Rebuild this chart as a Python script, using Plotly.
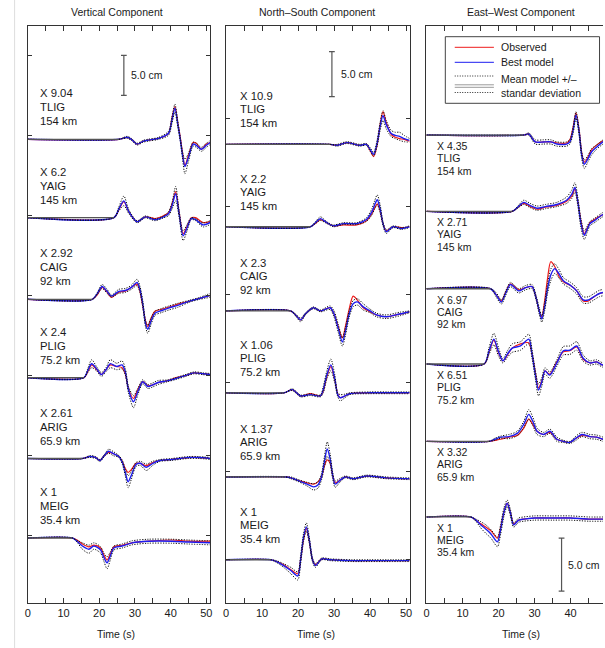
import plotly.graph_objects as go

# ---------------- labels ----------------
COMPONENT_TITLES = ["Vertical Component", "North–South Component", "East–West Component"]
STATIONS = ["TLIG", "YAIG", "CAIG", "PLIG", "ARIG", "MEIG"]
DISTANCES = ["154 km", "145 km", "92 km", "75.2 km", "65.9 km", "35.4 km"]
V_FACTORS = ["X 9.04", "X 6.2", "X 2.92", "X 2.4", "X 2.61", "X 1"]
NS_FACTORS = ["X 10.9", "X 2.2", "X 2.3", "X 1.06", "X 1.37", "X 1"]
EW_FACTORS = ["X 4.35", "X 2.71", "X 6.97", "X 6.51", "X 3.32", "X 1"]
X_TICKS = [0, 10, 20, 30, 40, 50]
SCALE_BAR_CM = 5.0

# ---------------- Vertical component (time s, amplitude cm) ----------------
V_TLIG_T = [0, 25.5, 27.8, 29.0, 30.6, 32.3, 33.8, 36.5, 39.4, 40.3, 41.2, 42.0, 42.7, 43.3, 44.0, 45.0, 46.3, 47.2, 48.6, 50.0, 51.1]
V_TLIG_OBS = [0, 0, 0.25, 0, -0.6, -0.25, -0.1, 0.1, 0.75, 2.5, 4.1, 2.1, 0.25, -1.6, -3.25, -2.0, -0.4, -0.5, -1.25, -0.6, -0.4]
V_TLIG_BEST = [0, 0, 0.25, 0, -0.6, -0.25, -0.1, 0.1, 0.75, 2.25, 3.9, 1.9, 0, -1.9, -3.4, -2.25, -0.6, -0.75, -1.25, -0.75, -0.4]
V_TLIG_STD = [0, 0, 0.12, 0.12, 0.12, 0.12, 0.12, 0.12, 0.25, 0.4, 0.5, 0.4, 0.25, 0.4, 0.9, 0.5, 0.25, 0.25, 0.25, 0.25, 0.25]

V_YAIG_T = [0, 24.1, 25.5, 26.9, 28.3, 30.6, 32.9, 35.6, 38.0, 39.4, 40.4, 41.4, 42.4, 43.5, 44.6, 45.8, 47.0, 49.1, 51.1]
V_YAIG_OBS = [0, 0, 1.0, 2.0, 0.75, -0.5, 0.1, -0.1, 0.25, 0.6, 1.75, 3.25, 0.6, -2.0, -1.1, 0, 0, -0.6, -0.5]
V_YAIG_BEST = [0, 0, 1.1, 2.1, 0.75, -0.5, 0.1, -0.25, 0.1, 0.5, 1.5, 3.0, 0.4, -2.25, -1.25, -0.1, -0.25, -0.9, -0.6]
V_YAIG_STD = [0, 0, 0.25, 0.6, 0.25, 0.12, 0.12, 0.12, 0.12, 0.25, 0.4, 0.9, 0.4, 0.6, 0.4, 0.12, 0.12, 0.25, 0.25]

V_CAIG_T = [0, 18.1, 19.5, 20.8, 22.2, 23.4, 25.5, 27.3, 29.0, 30.6, 31.4, 32.2, 33.0, 33.6, 34.5, 35.6, 37.5, 39.4, 42.0, 45.2, 48.0, 51.1]
V_CAIG_OBS = [0, 0, 0.6, 1.5, 0.9, 0.25, 0.9, 1.0, 1.5, 1.9, 1.0, -0.9, -2.75, -3.4, -2.4, -1.5, -1.25, -1.0, -0.6, -0.25, 0.1, 0.5]
V_CAIG_BEST = [0, 0, 0.75, 1.6, 1.0, 0.4, 1.0, 1.1, 1.5, 2.1, 1.25, -0.6, -3.1, -3.75, -2.75, -1.75, -1.4, -1.1, -0.75, -0.25, 0.1, 0.5]
V_CAIG_STD = [0, 0, 0.12, 0.25, 0.25, 0.12, 0.25, 0.25, 0.25, 0.4, 0.4, 0.4, 0.4, 0.5, 0.4, 0.25, 0.25, 0.25, 0.25, 0.12, 0.12, 0.25]

V_PLIG_T = [0, 15.7, 16.8, 17.9, 19.3, 20.6, 21.9, 23.1, 24.9, 26.4, 27.3, 28.2, 29.6, 30.8, 32.2, 33.6, 35.0, 36.5, 39.0, 41.5, 44.0, 46.5, 49.0, 51.1]
V_PLIG_OBS = [0, 0, 0.75, 1.6, 1.0, 0.4, 1.0, 1.6, 1.4, 1.25, 0.5, -1.4, -2.6, -1.5, -0.5, -1.0, -0.9, -0.6, -0.4, 0, 0.25, 0.6, 0.5, 0.4]
V_PLIG_BEST = [0, 0, 0.9, 1.75, 1.1, 0.4, 1.0, 1.75, 1.4, 1.6, 0.75, -1.5, -3.0, -1.75, -0.5, -1.1, -0.9, -0.6, -0.4, -0.1, 0.25, 0.6, 0.5, 0.4]
V_PLIG_STD = [0, 0, 0.25, 0.5, 0.25, 0.25, 0.25, 0.5, 0.4, 0.5, 0.4, 0.4, 0.75, 0.4, 0.25, 0.25, 0.25, 0.25, 0.12, 0.12, 0.12, 0.12, 0.12, 0.12]

V_ARIG_T = [0, 15.3, 17.4, 19.0, 20.2, 21.5, 22.6, 24.0, 25.5, 26.5, 27.3, 28.1, 29.0, 30.3, 31.5, 33.2, 35.0, 37.0, 40.3, 44.9, 48.0, 51.1]
V_ARIG_OBS = [0, 0, 0.25, 0.12, -0.25, 0.4, 0.75, 0.6, 0.25, -0.4, -1.25, -1.75, -1.4, -0.6, -0.6, -0.9, -0.5, -0.25, -0.12, 0.12, 0.12, 0]
V_ARIG_BEST = [0, 0, 0.25, 0.12, -0.25, 0.4, 0.9, 0.6, 0.25, -0.5, -1.75, -2.9, -2.1, -0.75, -0.6, -1.1, -0.6, -0.25, -0.12, 0.12, 0.12, 0]
V_ARIG_STD = [0, 0, 0.12, 0.12, 0.12, 0.12, 0.25, 0.25, 0.12, 0.25, 0.4, 0.75, 0.5, 0.25, 0.25, 0.4, 0.25, 0.12, 0.12, 0.12, 0.12, 0.12]

V_MEIG_T = [0, 12.5, 13.8, 15.3, 17.1, 18.5, 20.4, 21.3, 22.2, 23.1, 24.1, 26.4, 29.2, 33.8, 40.3, 45.0, 51.1]
V_MEIG_OBS = [0, 0, -0.25, -0.75, -1.1, -0.9, -1.25, -2.1, -2.75, -2.0, -1.1, -0.9, -0.6, -0.4, -0.25, -0.4, -0.4]
V_MEIG_BEST = [0, 0, -0.4, -1.0, -1.4, -1.0, -1.5, -2.4, -3.1, -2.25, -1.25, -1.0, -0.6, -0.4, -0.4, -0.5, -0.6]
V_MEIG_STD = [0, 0, 0.12, 0.4, 0.5, 0.4, 0.4, 0.5, 0.75, 0.5, 0.25, 0.25, 0.25, 0.25, 0.25, 0.25, 0.25]

# ---------------- North-South component ----------------
NS_TLIG_T = [0, 28.9, 30.8, 33.5, 37.2, 39.0, 40.0, 41.0, 42.0, 42.8, 43.6, 44.5, 45.9, 47.0, 48.2, 49.5, 51.0]
NS_TLIG_OBS = [0, 0, -0.1, 0.2, -0.1, 0, -0.65, -1.35, 0, 2.2, 3.65, 2.45, 1.1, 0.8, 0.65, 0.55, 0.35]
NS_TLIG_BEST = [0, 0, -0.1, 0.2, -0.1, 0, -0.55, -1.1, 0.2, 2.0, 3.2, 2.2, 1.2, 1.0, 0.9, 0.65, 0.45]
NS_TLIG_STD = [0, 0, 0.1, 0.1, 0.1, 0.1, 0.2, 0.2, 0.35, 0.45, 0.55, 0.45, 0.35, 0.35, 0.45, 0.35, 0.2]

NS_YAIG_T = [0, 23.4, 24.8, 26.2, 28.0, 29.8, 32.6, 36.3, 39.0, 40.5, 41.3, 42.0, 42.8, 43.6, 44.5, 46.4, 48.7, 51.0]
NS_YAIG_OBS = [0, 0, 0.35, 0.8, 0.45, 0.1, 0.2, 0.2, 0.65, 1.45, 2.1, 2.55, 1.8, 0.35, -0.45, 0, -0.1, 0]
NS_YAIG_BEST = [0, 0, 0.45, 0.9, 0.45, 0.1, 0.35, 0.35, 0.8, 1.65, 2.45, 3.0, 2.0, 0.35, -0.55, 0, -0.2, 0]
NS_YAIG_STD = [0, 0, 0.1, 0.2, 0.1, 0.1, 0.1, 0.1, 0.2, 0.35, 0.45, 0.55, 0.45, 0.2, 0.2, 0.1, 0.1, 0.1]

NS_CAIG_T = [0, 17.9, 19.3, 20.7, 22.0, 23.2, 24.3, 26.2, 28.9, 30.0, 31.2, 32.3, 33.2, 34.2, 35.3, 36.5, 38.1, 40.0, 41.8, 44.5, 48.2, 51.0]
NS_CAIG_OBS = [0, 0, -0.45, -1.0, -0.35, 0.1, 0.35, 0, 0.35, -0.35, -1.8, -3.0, -1.65, 0.2, 1.65, 1.2, 0.35, -0.1, -0.45, -0.65, -0.35, -0.1]
NS_CAIG_BEST = [0, 0, -0.45, -1.0, -0.35, 0.1, 0.35, 0, 0.35, -0.35, -2.0, -3.45, -2.2, -0.35, 0.8, 1.0, 0.45, 0, -0.45, -0.65, -0.35, -0.1]
NS_CAIG_STD = [0, 0, 0.1, 0.2, 0.1, 0.1, 0.1, 0.1, 0.2, 0.35, 0.45, 0.45, 0.45, 0.35, 0.35, 0.35, 0.35, 0.2, 0.2, 0.2, 0.2, 0.1]

NS_PLIG_T = [0, 16.1, 18.4, 20.7, 23.4, 26.2, 27.0, 28.0, 29.1, 30.2, 31.0, 31.7, 33.0, 34.4, 40.0, 45.0, 51.0]
NS_PLIG_OBS = [0, 0, 0.35, -0.35, -0.1, -0.35, 0.2, 1.8, 2.9, 1.45, -0.1, -0.55, -0.35, -0.1, 0, 0, 0]
NS_PLIG_BEST = [0, 0, 0.35, -0.35, -0.2, -0.35, 0.35, 2.0, 3.1, 1.55, -0.2, -0.55, -0.35, -0.1, 0, 0, 0]
NS_PLIG_STD = [0, 0, 0.1, 0.1, 0.1, 0.1, 0.35, 0.45, 0.65, 0.45, 0.2, 0.35, 0.2, 0.1, 0.1, 0.1, 0.1]

NS_ARIG_T = [0, 16.5, 18.0, 19.7, 22.5, 24.3, 25.5, 26.5, 27.3, 28.1, 28.9, 29.6, 30.3, 31.7, 33.1, 35.3, 39.0, 44.5, 51.0]
NS_ARIG_OBS = [0, 0, -0.1, -0.35, -0.65, -0.8, -0.55, 0, 1.2, 1.9, 1.55, 0.2, -0.65, -0.35, 0, -0.2, 0.1, -0.1, -0.2]
NS_ARIG_BEST = [0, 0, -0.1, -0.35, -0.8, -1.1, -0.9, 0, 1.65, 3.1, 2.0, 0.2, -0.8, -0.35, 0, -0.2, 0.1, -0.1, -0.2]
NS_ARIG_STD = [0, 0, 0.1, 0.1, 0.2, 0.35, 0.35, 0.35, 0.55, 0.8, 0.55, 0.35, 0.35, 0.2, 0.1, 0.1, 0.1, 0.1, 0.1]

NS_MEIG_T = [0, 12.4, 14.0, 16.0, 18.0, 19.9, 20.7, 21.5, 22.3, 23.1, 24.0, 24.8, 26.6, 28.9, 35.0, 40.0, 45.0, 51.0]
NS_MEIG_OBS = [0, 0, -0.2, -0.55, -1.1, -1.55, 0, 2.2, 3.45, 2.1, 0, -0.55, 0.1, 0, -0.1, -0.1, -0.1, -0.1]
NS_MEIG_BEST = [0, 0, -0.2, -0.65, -1.2, -1.8, 0, 2.45, 3.65, 2.2, 0, -0.65, 0.1, 0, -0.1, -0.1, -0.1, -0.1]
NS_MEIG_STD = [0, 0, 0.1, 0.2, 0.35, 0.45, 0.45, 0.45, 0.45, 0.35, 0.2, 0.2, 0.1, 0.1, 0.1, 0.1, 0.1, 0.1]

# ---------------- East-West component ----------------
EW_TLIG_T = [0, 27.0, 28.4, 30.2, 32.5, 34.5, 36.2, 38.9, 39.8, 40.7, 41.5, 42.4, 43.1, 43.8, 44.8, 45.8, 47.2, 49.0, 50.0]
EW_TLIG_OBS = [0, 0, 0.1, -0.65, -0.65, -0.65, -0.75, -0.75, -0.45, 0.75, 2.1, 0.4, -1.7, -2.55, -2.1, -1.4, -0.95, -0.55, -0.45]
EW_TLIG_BEST = [0, 0, 0.1, -0.65, -0.65, -0.65, -0.85, -0.85, -0.65, 0.45, 1.9, 0.2, -1.9, -2.75, -2.25, -1.6, -1.15, -0.65, -0.45]
EW_TLIG_STD = [0, 0, 0.1, 0.2, 0.2, 0.2, 0.2, 0.2, 0.2, 0.3, 0.3, 0.3, 0.3, 0.4, 0.3, 0.3, 0.2, 0.2, 0.2]

EW_YAIG_T = [0, 23.8, 25.5, 27.0, 28.8, 30.7, 33.0, 36.2, 38.9, 40.3, 41.2, 42.0, 42.9, 43.8, 44.6, 45.4, 46.7, 49.0, 50.0]
EW_YAIG_OBS = [0, 0, 0.4, 0.75, 0.45, 0.2, 0.4, 0.55, 0.95, 1.4, 2.1, 0.95, -0.95, -2.1, -1.6, -1.05, -0.75, -0.3, -0.2]
EW_YAIG_BEST = [0, 0, 0.45, 0.85, 0.55, 0.3, 0.45, 0.65, 1.05, 1.6, 2.25, 0.95, -1.15, -2.25, -1.7, -1.15, -0.85, -0.3, -0.2]
EW_YAIG_STD = [0, 0, 0.1, 0.2, 0.2, 0.2, 0.2, 0.2, 0.3, 0.4, 0.45, 0.4, 0.4, 0.4, 0.3, 0.2, 0.2, 0.2, 0.2]

EW_CAIG_T = [0, 17.8, 19.3, 20.8, 22.0, 23.3, 25.6, 27.5, 29.3, 30.5, 31.3, 32.0, 32.8, 33.6, 34.5, 35.6, 36.8, 38.0, 40.0, 41.7, 43.5, 45.0, 46.5, 48.0, 50.0]
EW_CAIG_OBS = [0, 0, -0.55, -1.15, -0.3, 0.45, -0.1, 0.1, 0.2, -0.95, -2.1, -2.65, -1.15, 0.95, 2.55, 2.1, 1.15, 0.65, 0.3, -0.2, -1.15, -1.15, -0.75, -0.45, -0.3]
EW_CAIG_BEST = [0, 0, -0.55, -1.25, -0.4, 0.4, -0.2, 0.1, 0.2, -0.95, -2.1, -2.85, -1.7, 0, 1.3, 1.9, 1.4, 0.75, 0.3, -0.2, -1.05, -1.05, -0.75, -0.45, -0.3]
EW_CAIG_STD = [0, 0, 0.2, 0.2, 0.2, 0.2, 0.2, 0.2, 0.2, 0.2, 0.3, 0.3, 0.4, 0.45, 0.55, 0.45, 0.4, 0.3, 0.3, 0.3, 0.3, 0.3, 0.3, 0.3, 0.3]

EW_PLIG_T = [0, 16.0, 17.3, 18.7, 20.0, 21.2, 22.5, 23.8, 26.1, 28.4, 29.3, 30.2, 31.1, 32.0, 32.9, 34.2, 36.2, 38.0, 39.8, 41.7, 43.5, 45.4, 47.2, 49.0, 50.0]
EW_PLIG_OBS = [0, 0, 1.05, 2.25, 1.05, 0.3, 0.85, 1.5, 1.9, 2.0, 0.95, -0.75, -2.25, -1.6, -0.65, -0.95, 0.2, 1.15, 1.25, 1.6, 0.45, 0.1, 0.2, -0.1, 0]
EW_PLIG_BEST = [0, 0, 1.15, 2.35, 1.15, 0.3, 0.95, 1.5, 1.7, 2.35, 0.95, -0.95, -2.45, -1.7, -0.65, -1.05, 0.1, 1.25, 1.3, 1.7, 0.55, 0.1, 0.2, -0.1, 0]
EW_PLIG_STD = [0, 0, 0.3, 0.55, 0.4, 0.2, 0.3, 0.4, 0.4, 0.45, 0.4, 0.4, 0.55, 0.4, 0.3, 0.3, 0.3, 0.4, 0.4, 0.4, 0.3, 0.2, 0.2, 0.2, 0.2]

EW_ARIG_T = [0, 17.4, 19.0, 20.6, 22.9, 25.2, 27.0, 28.4, 29.5, 30.7, 32.5, 34.3, 36.2, 38.0, 39.8, 41.5, 43.1, 45.4, 47.2, 49.0, 50.0]
EW_ARIG_OBS = [0, 0, 0.1, 0.2, 0.4, 0.55, 1.25, 2.1, 1.6, 0.95, 0.65, 0.85, 0.2, 0, -0.1, 0.3, 0.55, 0.45, 0.4, 0.2, 0.1]
EW_ARIG_BEST = [0, 0, 0.2, 0.4, 0.45, 0.75, 1.6, 2.55, 1.9, 0.95, 0.65, 0.95, 0.2, 0, -0.1, 0.3, 0.65, 0.45, 0.4, 0.2, 0.1]
EW_ARIG_STD = [0, 0, 0.1, 0.1, 0.2, 0.2, 0.3, 0.45, 0.4, 0.3, 0.2, 0.2, 0.2, 0.1, 0.1, 0.2, 0.2, 0.2, 0.2, 0.2, 0.2]

EW_MEIG_T = [0, 12.3, 13.7, 15.1, 16.5, 17.9, 19.7, 20.6, 21.5, 22.4, 23.3, 24.2, 25.6, 27.0, 30.0, 35.0, 40.0, 45.0, 50.0]
EW_MEIG_OBS = [0, 0, -0.3, -0.65, -0.95, -1.3, -2.0, -0.95, 0.45, 1.3, 0.4, -0.65, -0.3, -0.2, -0.1, -0.1, -0.1, -0.2, -0.2]
EW_MEIG_BEST = [0, 0, -0.3, -0.75, -1.15, -1.6, -2.35, -1.15, 0.45, 1.3, 0.4, -0.75, -0.3, -0.2, -0.1, -0.1, -0.1, -0.2, -0.2]
EW_MEIG_STD = [0, 0, 0.1, 0.3, 0.4, 0.4, 0.45, 0.45, 0.4, 0.3, 0.3, 0.2, 0.2, 0.2, 0.2, 0.2, 0.2, 0.2, 0.2]

V_DATA = [
    (V_TLIG_T, V_TLIG_OBS, V_TLIG_BEST, V_TLIG_STD),
    (V_YAIG_T, V_YAIG_OBS, V_YAIG_BEST, V_YAIG_STD),
    (V_CAIG_T, V_CAIG_OBS, V_CAIG_BEST, V_CAIG_STD),
    (V_PLIG_T, V_PLIG_OBS, V_PLIG_BEST, V_PLIG_STD),
    (V_ARIG_T, V_ARIG_OBS, V_ARIG_BEST, V_ARIG_STD),
    (V_MEIG_T, V_MEIG_OBS, V_MEIG_BEST, V_MEIG_STD),
]
NS_DATA = [
    (NS_TLIG_T, NS_TLIG_OBS, NS_TLIG_BEST, NS_TLIG_STD),
    (NS_YAIG_T, NS_YAIG_OBS, NS_YAIG_BEST, NS_YAIG_STD),
    (NS_CAIG_T, NS_CAIG_OBS, NS_CAIG_BEST, NS_CAIG_STD),
    (NS_PLIG_T, NS_PLIG_OBS, NS_PLIG_BEST, NS_PLIG_STD),
    (NS_ARIG_T, NS_ARIG_OBS, NS_ARIG_BEST, NS_ARIG_STD),
    (NS_MEIG_T, NS_MEIG_OBS, NS_MEIG_BEST, NS_MEIG_STD),
]
EW_DATA = [
    (EW_TLIG_T, EW_TLIG_OBS, EW_TLIG_BEST, EW_TLIG_STD),
    (EW_YAIG_T, EW_YAIG_OBS, EW_YAIG_BEST, EW_YAIG_STD),
    (EW_CAIG_T, EW_CAIG_OBS, EW_CAIG_BEST, EW_CAIG_STD),
    (EW_PLIG_T, EW_PLIG_OBS, EW_PLIG_BEST, EW_PLIG_STD),
    (EW_ARIG_T, EW_ARIG_OBS, EW_ARIG_BEST, EW_ARIG_STD),
    (EW_MEIG_T, EW_MEIG_OBS, EW_MEIG_BEST, EW_MEIG_STD),
]

# ---------------- layout (page pixels) ----------------
W, H = 605, 648
FONT = "Liberation Sans, Arial, Helvetica, sans-serif"
TXT = "#1a1a1a"
AX = "#333333"
RED = "#ee1c1c"
BLUE = "#1c1cf0"
DOT = "#111111"
MEAN_GRAY = "#555555"
DOT_DASH = "1.2px,1.4px"


def px(x):
    return x / W


def py(y):
    return 1 - y / H


PLOT_TOP, PLOT_BOTTOM = 26, 602.5
YDOM = [py(PLOT_BOTTOM), py(PLOT_TOP)]

PANELS = [
    dict(data=V_DATA, factors=V_FACTORS, left=25, right=209, xmax=51.1, pxcm=8.0,
         base=[57.9, 48.1, 37.9, 28.1, 18.0, 8.06], ytv=[8.4, 18.4, 28.4, 38.4, 48.4, 58.4, 68.4],
         lab_x=2.8, lab_dy=[46, 32, 18], lab_size=11.3, mirror=True,
         bar_t=26.9, bar_top=68.4, txt_t=28.4, title_x=115, time_x=114),
    dict(data=NS_DATA, factors=NS_FACTORS, left=225, right=410, xmax=51.0, pxcm=9.0,
         base=[50.9, 41.75, 32.4, 23.3, 13.95, 4.75], ytv=[4.8, 14.6, 24.4, 34.2, 44.0, 53.8],
         lab_x=3.2, lab_dy=[48, 35, 21], lab_size=11.3, mirror=True,
         bar_t=29.4, bar_top=61.2, txt_t=31.5, title_x=317, time_x=316),
    dict(data=EW_DATA, factors=EW_FACTORS, left=427, right=605, xmax=49.0, pxcm=10.6,
         base=[44.1, 36.9, 29.6, 22.5, 15.2, 8.07], ytv=[],
         lab_x=2.4, lab_dy=[-11, -23, -35.5], lab_size=10.5, mirror=False,
         bar_t=37.5, bar_top=6.08, txt_t=38.7, title_x=522, time_x=522),
]

fig = go.Figure()
layout = dict(
    width=W, height=H, margin=dict(l=0, r=0, t=0, b=0),
    paper_bgcolor="white", plot_bgcolor="white", showlegend=False,
    font=dict(family=FONT, size=11, color=TXT),
)
annotations = []
shapes = []

for i, p in enumerate(PANELS):
    xa = "x" if i == 0 else f"x{i+1}"
    ya = "y" if i == 0 else f"y{i+1}"
    xkey = "xaxis" if i == 0 else f"xaxis{i+1}"
    ykey = "yaxis" if i == 0 else f"yaxis{i+1}"
    yrange = (PLOT_BOTTOM - PLOT_TOP) / p["pxcm"]

    layout[xkey] = dict(
        domain=[px(p["left"]), px(p["right"])], range=[0, p["xmax"]], anchor=ya,
        tickmode="array", tickvals=X_TICKS, ticktext=[str(v) for v in X_TICKS],
        ticks="inside", ticklen=5, tickwidth=1, tickcolor=AX,
        minor=dict(dtick=5, tick0=0, ticks="inside", ticklen=5, tickwidth=1, tickcolor=AX),
        mirror="allticks", showline=True, linecolor=AX, linewidth=1,
        showgrid=False, zeroline=False, tickfont=dict(size=11, color=TXT),
    )
    layout[ykey] = dict(
        domain=YDOM, range=[0, yrange], anchor=xa,
        showticklabels=False, tickmode="array", tickvals=p["ytv"],
        ticks="inside" if p["ytv"] else "", ticklen=4, tickcolor=AX,
        mirror="allticks" if p["mirror"] else False, showline=True, linecolor=AX, linewidth=1,
        showgrid=False, zeroline=False,
    )

    for k, (t, obs, best, std) in enumerate(p["data"]):
        b0 = p["base"][k]
        upper = [b0 + b + s for b, s in zip(best, std)]
        lower = [b0 + b - s for b, s in zip(best, std)]
        common = dict(x=t, xaxis=xa, yaxis=ya, mode="lines", hoverinfo="skip")
        sp = dict(shape="spline", smoothing=0.8)
        fig.add_trace(go.Scatter(y=[b0 + v for v in obs], line=dict(color=RED, width=1.2, **sp), **common))
        fig.add_trace(go.Scatter(y=[b0 + v for v in best], line=dict(color=BLUE, width=1.4, **sp), **common))
        fig.add_trace(go.Scatter(y=upper, line=dict(color=DOT, width=1, dash=DOT_DASH, **sp), **common))
        fig.add_trace(go.Scatter(y=lower, line=dict(color=DOT, width=1, dash=DOT_DASH, **sp), **common))
        # quiet pre-event part, where all models coincide (drawn in gray like the mean model)
        fig.add_trace(go.Scatter(x=t[:2], y=[b0 + v for v in best[:2]], xaxis=xa, yaxis=ya,
                                 mode="lines", hoverinfo="skip",
                                 line=dict(color=MEAN_GRAY, width=1.3)))

        lines = [p["factors"][k], STATIONS[k], DISTANCES[k]]
        for j, txt in enumerate(lines):
            annotations.append(dict(
                x=p["lab_x"], y=b0 + p["lab_dy"][j] / p["pxcm"], xref=xa, yref=ya,
                text=txt, showarrow=False, xanchor="left", yanchor="middle",
                font=dict(size=p["lab_size"], color=TXT, family=FONT),
            ))

    # scale bar (5 cm)
    top = p["bar_top"]
    bot = top - SCALE_BAR_CM
    cap = 0.8
    for (x0, y0, x1, y1) in [(p["bar_t"], bot, p["bar_t"], top),
                             (p["bar_t"] - cap, top, p["bar_t"] + cap, top),
                             (p["bar_t"] - cap, bot, p["bar_t"] + cap, bot)]:
        shapes.append(dict(type="line", xref=xa, yref=ya, x0=x0, y0=y0, x1=x1, y1=y1,
                           line=dict(color="#555555", width=1.2)))
    annotations.append(dict(x=p["txt_t"], y=(top + bot) / 2, xref=xa, yref=ya,
                            text=f"{SCALE_BAR_CM:.1f} cm", showarrow=False,
                            xanchor="left", yanchor="middle",
                            font=dict(size=10.5, color=TXT, family=FONT)))

    # panel title and x-axis title
    annotations.append(dict(x=px(p["title_x"]), y=py(12), xref="paper", yref="paper",
                            text=COMPONENT_TITLES[i], showarrow=False,
                            xanchor="center", yanchor="middle",
                            font=dict(size=10.5, color=TXT, family=FONT)))
    annotations.append(dict(x=px(p["time_x"]), y=py(634), xref="paper", yref="paper",
                            text="Time (s)", showarrow=False,
                            xanchor="center", yanchor="middle",
                            font=dict(size=10.5, color=TXT, family=FONT)))

# legend (drawn manually, East-West panel)
shapes.append(dict(type="rect", xref="paper", yref="paper",
                   x0=px(446), x1=px(601.5), y0=py(103.3), y1=py(36.7),
                   line=dict(color="#444444", width=1), fillcolor="white", layer="above"))
lx0, lx1 = px(455.5), px(495)
shapes.append(dict(type="line", xref="paper", yref="paper", x0=lx0, x1=lx1, y0=py(47.3), y1=py(47.3),
                   line=dict(color=RED, width=1)))
shapes.append(dict(type="line", xref="paper", yref="paper", x0=lx0, x1=lx1, y0=py(62.3), y1=py(62.3),
                   line=dict(color=BLUE, width=1)))
for yy in (76, 92.5):
    shapes.append(dict(type="line", xref="paper", yref="paper", x0=lx0, x1=lx1, y0=py(yy), y1=py(yy),
                       line=dict(color=DOT, width=0.9, dash="1px,1.5px")))
for yy in (84.8, 87.3):
    shapes.append(dict(type="line", xref="paper", yref="paper", x0=lx0, x1=lx1, y0=py(yy), y1=py(yy),
                       line=dict(color="#9a9a9a", width=1)))
LEGEND_TEXT = [("Observed", 47.3), ("Best model", 62.3), ("Mean model +/–", 78.5), ("standar deviation", 93.2)]
for txt, yy in LEGEND_TEXT:
    annotations.append(dict(x=px(500.5), y=py(yy), xref="paper", yref="paper", text=txt,
                            showarrow=False, xanchor="left", yanchor="middle",
                            font=dict(size=10.5, color=TXT, family=FONT)))

# faint page rule on the left
shapes.append(dict(type="line", xref="paper", yref="paper", x0=px(11.7), x1=px(11.7), y0=0, y1=1,
                   line=dict(color="#dddddd", width=1)))

layout["annotations"] = annotations
layout["shapes"] = shapes
fig.update_layout(**layout)
fig.write_html(
    "out.html",
    config={"displayModeBar": False, "staticPlot": True},
    post_script="document.body.style.margin='0px';document.body.style.overflow='hidden';",
)
